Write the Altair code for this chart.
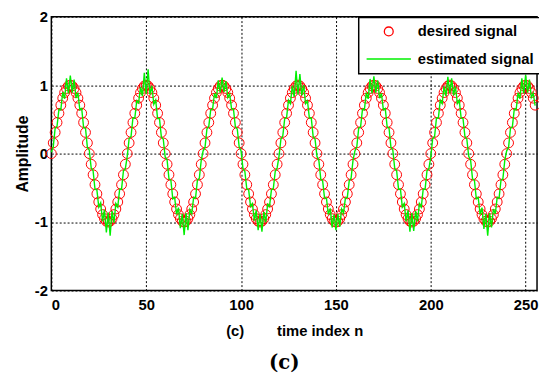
import altair as alt
import pandas as pd

# sample index n (0..255)
n_index = list(range(256))

# desired signal (red circles)
desired = [
    0.000, 0.156, 0.309, 0.454, 0.588, 0.707, 0.809, 0.891, 0.951, 0.988,
    1.000, 0.988, 0.951, 0.891, 0.809, 0.707, 0.588, 0.454, 0.309, 0.156,
    0.000, -0.156, -0.309, -0.454, -0.588, -0.707, -0.809, -0.891, -0.951, -0.988,
    -1.000, -0.988, -0.951, -0.891, -0.809, -0.707, -0.588, -0.454, -0.309, -0.156,
    0.000, 0.156, 0.309, 0.454, 0.588, 0.707, 0.809, 0.891, 0.951, 0.988,
    1.000, 0.988, 0.951, 0.891, 0.809, 0.707, 0.588, 0.454, 0.309, 0.156,
    0.000, -0.156, -0.309, -0.454, -0.588, -0.707, -0.809, -0.891, -0.951, -0.988,
    -1.000, -0.988, -0.951, -0.891, -0.809, -0.707, -0.588, -0.454, -0.309, -0.156,
    0.000, 0.156, 0.309, 0.454, 0.588, 0.707, 0.809, 0.891, 0.951, 0.988,
    1.000, 0.988, 0.951, 0.891, 0.809, 0.707, 0.588, 0.454, 0.309, 0.156,
    0.000, -0.156, -0.309, -0.454, -0.588, -0.707, -0.809, -0.891, -0.951, -0.988,
    -1.000, -0.988, -0.951, -0.891, -0.809, -0.707, -0.588, -0.454, -0.309, -0.156,
    0.000, 0.156, 0.309, 0.454, 0.588, 0.707, 0.809, 0.891, 0.951, 0.988,
    1.000, 0.988, 0.951, 0.891, 0.809, 0.707, 0.588, 0.454, 0.309, 0.156,
    0.000, -0.156, -0.309, -0.454, -0.588, -0.707, -0.809, -0.891, -0.951, -0.988,
    -1.000, -0.988, -0.951, -0.891, -0.809, -0.707, -0.588, -0.454, -0.309, -0.156,
    0.000, 0.156, 0.309, 0.454, 0.588, 0.707, 0.809, 0.891, 0.951, 0.988,
    1.000, 0.988, 0.951, 0.891, 0.809, 0.707, 0.588, 0.454, 0.309, 0.156,
    0.000, -0.156, -0.309, -0.454, -0.588, -0.707, -0.809, -0.891, -0.951, -0.988,
    -1.000, -0.988, -0.951, -0.891, -0.809, -0.707, -0.588, -0.454, -0.309, -0.156,
    0.000, 0.156, 0.309, 0.454, 0.588, 0.707, 0.809, 0.891, 0.951, 0.988,
    1.000, 0.988, 0.951, 0.891, 0.809, 0.707, 0.588, 0.454, 0.309, 0.156,
    0.000, -0.156, -0.309, -0.454, -0.588, -0.707, -0.809, -0.891, -0.951, -0.988,
    -1.000, -0.988, -0.951, -0.891, -0.809, -0.707, -0.588, -0.454, -0.309, -0.156,
    0.000, 0.156, 0.309, 0.454, 0.588, 0.707, 0.809, 0.891, 0.951, 0.988,
    1.000, 0.988, 0.951, 0.891, 0.809, 0.707,
]

# estimated signal (green line) (noisy around peaks)
estimated = [
    0.02, 0.10, 0.37, 0.40, 0.65, 0.64, 0.90, 0.80, 1.10, 0.88,
    1.14, 0.89, 1.08, 0.81, 0.89, 0.64, 0.66, 0.38, 0.37, 0.09,
    0.05, -0.21, -0.25, -0.52, -0.53, -0.78, -0.72, -0.99, -0.82, -1.15,
    -0.86, -1.20, -0.84, -1.01, -0.73, -0.78, -0.52, -0.52, -0.25, -0.22,
    -0.04, 0.22, 0.25, 0.52, 0.52, 0.77, 0.74, 0.97, 0.84, 1.18,
    0.87, 1.23, 0.86, 0.99, 0.72, 0.78, 0.51, 0.51, 0.24, 0.21,
    -0.05, -0.09, -0.37, -0.39, -0.66, -0.64, -0.89, -0.79, -1.09, -0.88,
    -1.19, -0.87, -1.12, -0.82, -0.88, -0.64, -0.65, -0.39, -0.36, -0.10,
    0.04, 0.09, 0.36, 0.40, 0.64, 0.65, 0.88, 0.81, 1.07, 0.89,
    1.11, 0.90, 1.06, 0.82, 0.87, 0.65, 0.65, 0.39, 0.36, 0.10,
    0.04, -0.22, -0.26, -0.51, -0.53, -0.77, -0.73, -0.98, -0.83, -1.12,
    -0.88, -1.14, -0.85, -1.00, -0.74, -0.77, -0.53, -0.51, -0.26, -0.21,
    -0.04, 0.21, 0.26, 0.51, 0.53, 0.78, 0.73, 0.99, 0.83, 1.21,
    0.86, 1.16, 0.85, 1.00, 0.73, 0.77, 0.52, 0.52, 0.25, 0.21,
    -0.04, -0.10, -0.37, -0.40, -0.65, -0.65, -0.89, -0.80, -1.08, -0.89,
    -1.12, -0.88, -1.07, -0.81, -0.87, -0.65, -0.64, -0.40, -0.36, -0.10,
    0.04, 0.10, 0.37, 0.39, 0.65, 0.64, 0.89, 0.80, 1.09, 0.88,
    1.13, 0.89, 1.07, 0.81, 0.88, 0.64, 0.66, 0.39, 0.37, 0.09,
    0.05, -0.22, -0.25, -0.52, -0.52, -0.78, -0.73, -0.99, -0.83, -1.14,
    -0.87, -1.13, -0.84, -0.99, -0.73, -0.78, -0.52, -0.52, -0.25, -0.22,
    -0.05, 0.22, 0.25, 0.52, 0.52, 0.78, 0.73, 0.98, 0.84, 1.12,
    0.88, 1.10, 0.85, 0.98, 0.73, 0.78, 0.52, 0.51, 0.25, 0.21,
    -0.04, -0.10, -0.37, -0.39, -0.66, -0.64, -0.89, -0.79, -1.10, -0.88,
    -1.20, -0.87, -1.08, -0.81, -0.88, -0.64, -0.65, -0.39, -0.37, -0.10,
    0.04, 0.09, 0.37, 0.39, 0.65, 0.64, 0.89, 0.80, 1.10, 0.88,
    1.15, 0.89, 1.08, 0.82, 0.88, 0.70,
]

series_names = ["desired signal", "estimated signal"]
series_colors = ["#ff0000", "#00f000"]
x_ticks = [0, 50, 100, 150, 200, 250]
y_ticks = [-2, -1, 0, 1, 2]

# symbol shapes: open circle (unit radius 0.2) and a horizontal stroke
CIRCLE = ("M0.2,0 C0.2,0.1105 0.1105,0.2 0,0.2 C-0.1105,0.2 -0.2,0.1105 -0.2,0 "
          "C-0.2,-0.1105 -0.1105,-0.2 0,-0.2 C0.1105,-0.2 0.2,-0.1105 0.2,0 Z")
STROKE = "M-1,0 L1,0"

df_d = pd.DataFrame({"n": n_index, "value": desired, "series": series_names[0]})
df_e = pd.DataFrame({"n": n_index, "value": estimated, "series": series_names[1]})

FONT = "Liberation Sans"
NB = "\u00a0"

xenc = alt.X(
    "n:Q",
    scale=alt.Scale(domain=[0, 256], nice=False, zero=False),
    axis=alt.Axis(
        values=x_ticks, title="(c)" + NB * 8 + "time index n",
        labelFont=FONT, labelFontSize=15, labelFontWeight="bold", labelColor="black",
        labelPadding=7, ticks=False, domain=False,
        grid=True, gridColor="black", gridDash=[2, 2], gridOpacity=1, gridWidth=1,
        titleFont=FONT, titleFontSize=15, titleFontWeight="bold", titleColor="black",
        titlePadding=12,
    ),
)
yenc = alt.Y(
    "value:Q",
    scale=alt.Scale(domain=[-2, 2], nice=False),
    axis=alt.Axis(
        values=y_ticks, title="Amplitude", labelExpr="'' + datum.value",
        labelFont=FONT, labelFontSize=15, labelFontWeight="bold", labelColor="black",
        labelPadding=4, ticks=False, domain=False,
        grid=True, gridColor="black", gridDash=[2, 2], gridOpacity=1, gridWidth=1,
        titleFont=FONT, titleFontSize=16, titleFontWeight="bold", titleColor="black",
        titlePadding=4,
    ),
)

legend = alt.Legend(
    title=None, orient="none", legendX=312, legendY=1,
    strokeColor="black", fillColor="white", padding=7,
    symbolSize=2025, symbolStrokeWidth=1.3, symbolFillColor="transparent",
    labelFont=FONT, labelFontSize=15, labelFontWeight="bold", labelColor="black",
    labelOffset=6, rowPadding=13, clipHeight=14,
)

color = alt.Color(
    "series:N",
    scale=alt.Scale(domain=series_names, range=series_colors),
    legend=legend,
)
shape = alt.Shape(
    "series:N",
    scale=alt.Scale(domain=series_names, range=[CIRCLE, STROKE]),
    legend=legend,
)

points = alt.Chart(df_d).mark_point(
    filled=False, size=2500, strokeWidth=1, opacity=1
).encode(x=xenc, y=yenc, color=color, shape=shape)

line = alt.Chart(df_e).mark_line(strokeWidth=1.4).encode(x=xenc, y=yenc, color=color)

chart = (
    alt.layer(points, line)
    .properties(
        width=493,
        height=278,
        autosize=alt.AutoSizeParams(type="none"),
        padding={"left": 44, "top": 6, "right": 2, "bottom": 85},
        title=alt.TitleParams(
            text="(c)", orient="bottom", anchor="middle", font="DejaVu Serif",
            fontSize=20, fontWeight="bold", color="black", dx=-10, offset=15,
        ),
    )
    .configure_view(stroke="black", strokeWidth=1.5)
    .configure_legend(strokeWidth=1.5)
)

chart.save("out.html", embed_options={"renderer": "svg", "actions": False})
